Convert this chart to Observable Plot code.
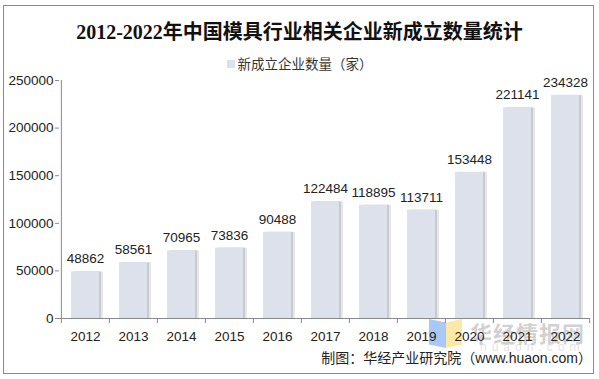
<!DOCTYPE html>
<html><head><meta charset="utf-8">
<script src="https://cdn.jsdelivr.net/npm/d3@7"></script>
<script src="https://cdn.jsdelivr.net/npm/@observablehq/plot@0.6"></script>
<style>
body{margin:0;background:#fff;}
#frame{position:relative;width:599px;height:379px;overflow:hidden;font-family:"Liberation Sans","Noto Sans CJK SC",sans-serif;}
#border{position:absolute;left:3px;top:5px;width:589px;height:367px;border:1px solid #8a8a8a;}
#title{position:absolute;left:0;width:599px;top:16px;text-align:center;font-family:"Liberation Serif","Noto Sans CJK SC",serif;font-weight:bold;font-size:20px;color:#111;}
#legend{position:absolute;left:0;width:599px;top:53px;text-align:center;font-size:13.5px;color:#333;font-family:"Noto Sans CJK SC",sans-serif;}
#legend span.sw{display:inline-block;width:8px;height:8px;background:#dde1ec;margin-right:3px;vertical-align:1px;}
#chart{position:absolute;left:0;top:70px;z-index:2;}
#caption{position:absolute;right:7px;top:347px;font-size:14px;color:#222;font-family:"Liberation Sans","Noto Sans CJK SC",sans-serif;z-index:3;}
.wm{position:absolute;z-index:1;}
</style></head>
<body>
<div id="frame">
  <div id="border"></div>
  <div id="title">2012-2022年中国模具行业相关企业新成立数量统计</div>
  <div id="legend"><span class="sw"></span>新成立企业数量（家）</div>
  <div class="wm" style="left:429px;top:319px;width:17px;height:29px;background:#a9c8f5;clip-path:polygon(0 0,100% 12%,100% 100%,0 88%);"></div>
  <div class="wm" style="left:446px;top:319px;width:16px;height:29px;background:#fbe9a6;clip-path:polygon(0 12%,100% 0,100% 88%,0 100%);"></div>
  <div class="wm" style="left:470px;top:316px;font-size:22px;font-weight:bold;color:rgba(170,170,170,0.55);font-family:'Noto Sans CJK SC';letter-spacing:1px;">华经情报网</div>
  <div class="wm" style="left:480px;top:340px;font-size:12px;color:rgba(190,190,190,0.45);letter-spacing:5px;font-family:'Liberation Sans';">huaon.com</div>
  <div id="chart"></div>
  <div id="caption">制图：华经产业研究院（www.huaon.com）</div>
</div>
<script>
const years = ["2012","2013","2014","2015","2016","2017","2018","2019","2020","2021","2022"];
const counts = [48862,58561,70965,73836,90488,122484,118895,113711,153448,221141,234328];
const yTicks = [0,50000,100000,150000,200000,250000];

const data = years.map((y,i)=>({year:y, value:counts[i]}));
const W = 599, mL = 59, mR = 9;
const step = (W - mL - mR) / years.length;

const plot = Plot.plot({
  width: W, height: 275,
  marginLeft: mL, marginRight: mR, marginTop: 10, marginBottom: 27,
  style: {fontFamily: "Liberation Sans, Arial, sans-serif", fontSize: "13px", color: "#333", background: "transparent"},
  x: {domain: years, paddingInner: 0.42, paddingOuter: 0.21, label: null},
  y: {domain: [0, 250000], label: null},
  marks: [
    Plot.barY(data, {x: "year", y: "value", fill: "#d0d0d0", dx: 4, fillOpacity: 0.5}),
    Plot.barY(data, {x: "year", y: "value", fill: "#b8b8b8", dx: 2, fillOpacity: 0.6}),
    Plot.barY(data, {x: "year", y: "value", fill: "#dde1eb"}),
    Plot.text(data, {x: "year", y: "value", text: d => String(d.value), dy: -13, fill: "#222", fontSize: 13.5}),
    Plot.axisY({ticks: yTicks, tickFormat: d => String(d), tickSize: 4, tickPadding: 2, stroke: "#888", fill: "#222", fontSize: 13.5}),
    Plot.ruleX([0], {x: () => years[0], dx: -step/2, y1: 0, y2: 250000, stroke: "#888"}),
    Plot.ruleY([0], {stroke: "#888"}),
    Plot.ruleX(years, {x: d => d, dx: -step/2, y1: 0, y2: 0, insetBottom: -5, stroke: "#888"}),
    Plot.ruleX(years.slice(-1), {x: d => d, dx: step/2, y1: 0, y2: 0, insetBottom: -5, stroke: "#888"}),
    Plot.axisX({tickSize: 0, tickPadding: 13, fill: "#222", fontSize: 13.5})
  ]
});
document.getElementById("chart").appendChild(plot);
</script>
</body></html>
